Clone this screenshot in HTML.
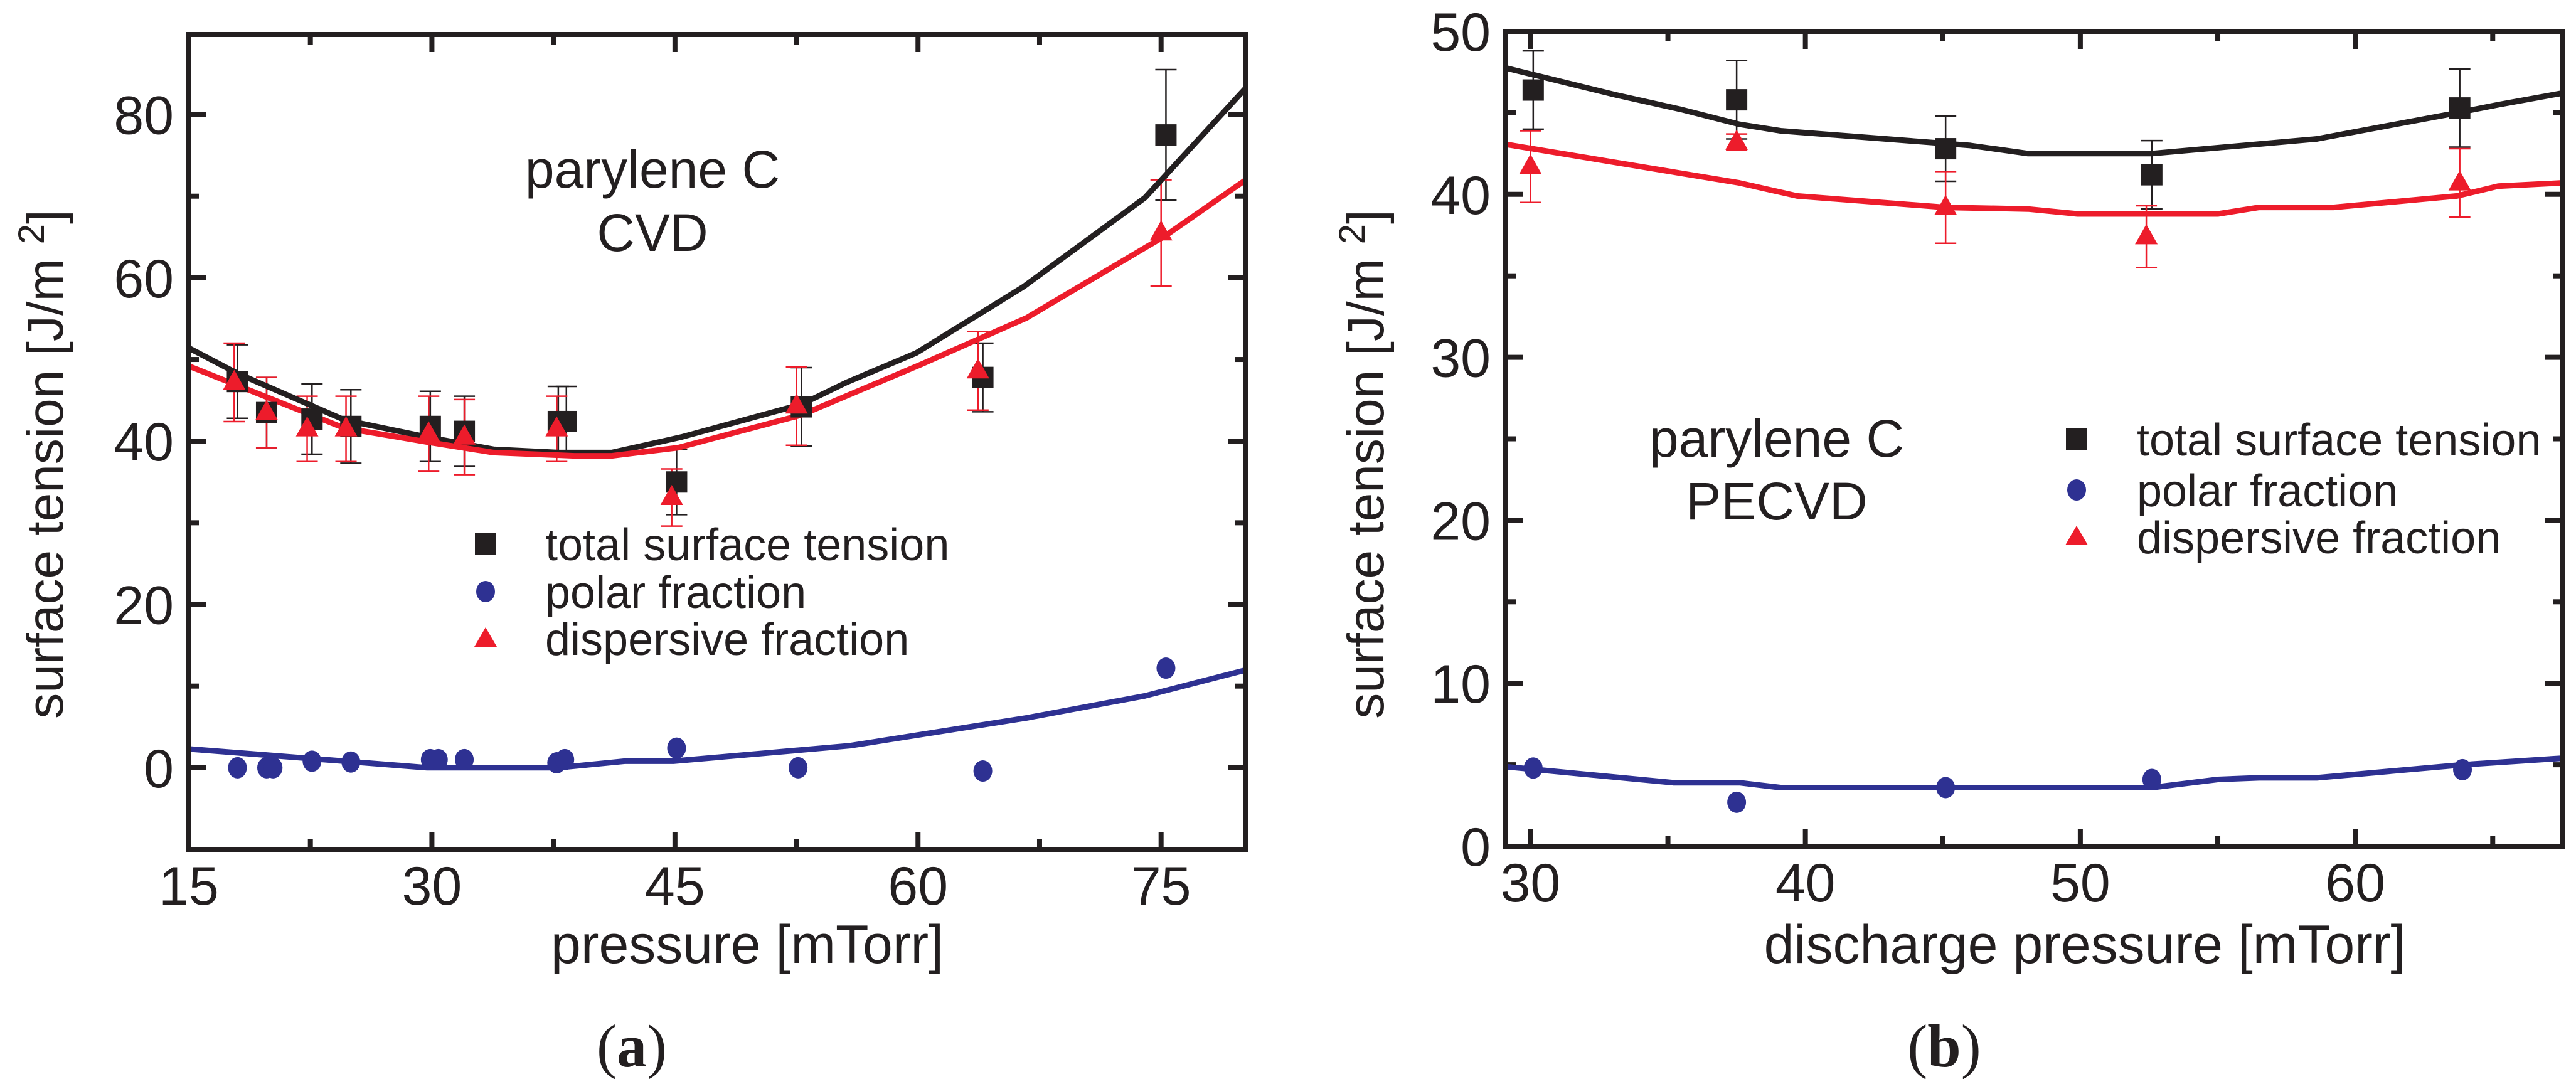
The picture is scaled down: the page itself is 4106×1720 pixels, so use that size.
<!DOCTYPE html>
<html><head><meta charset="utf-8"><style>
html,body{margin:0;padding:0;background:#fff;}
svg{display:block;font-family:"Liberation Sans",sans-serif;}
</style></head><body>
<svg id="fig" width="4106" height="1720" viewBox="0 0 4106 1720" xmlns="http://www.w3.org/2000/svg">
<rect x="0" y="0" width="4106" height="1720" fill="#fff"/>
<g id="pa"></g>
<g id="pb"></g>
<text x="1040" y="299" font-size="84" text-anchor="middle" fill="#231f20">parylene C</text>
<text x="1040" y="400" font-size="84" text-anchor="middle" fill="#231f20">CVD</text>
<text x="1191" y="1535" font-size="86" text-anchor="middle" fill="#231f20">pressure [mTorr]</text>
<text transform="translate(100,740) rotate(-90)" font-size="82" text-anchor="middle" fill="#231f20">surface tension [J/m <tspan dy="-30" font-size="58">2</tspan><tspan dy="30">]</tspan></text>
<text x="1007" y="1700" font-size="96" text-anchor="middle" font-family="Liberation Serif, serif" fill="#231f20">(<tspan font-weight="bold">a</tspan>)</text>
<text x="2832" y="728" font-size="84" text-anchor="middle" fill="#231f20">parylene C</text>
<text x="2832" y="828" font-size="84" text-anchor="middle" fill="#231f20">PECVD</text>
<text x="3323" y="1535" font-size="86" text-anchor="middle" fill="#231f20">discharge pressure [mTorr]</text>
<text transform="translate(2205,740) rotate(-90)" font-size="82" text-anchor="middle" fill="#231f20">surface tension [J/m <tspan dy="-30" font-size="58">2</tspan><tspan dy="30">]</tspan></text>
<text x="3099" y="1700" font-size="96" text-anchor="middle" font-family="Liberation Serif, serif" fill="#231f20">(<tspan font-weight="bold">b</tspan>)</text>
</svg>
<script>
const aTotalX = [18.0, 19.8, 22.6, 25.0, 29.9, 32.0, 37.8, 38.3, 45.1, 52.8, 64.0, 75.3];
const aTotalY = [47.3, 43.5, 42.7, 41.8, 41.8, 41.2, 42.4, 42.4, 35.0, 44.2, 47.8, 77.5];
const aTotalErr = [4.5, 4.3, 4.3, 4.5, 4.3, 4.3, 4.3, 4.3, 4.0, 4.8, 4.2, 8.0];
const aDispX = [17.8, 19.8, 22.3, 24.7, 29.8, 32.0, 37.7, 44.8, 52.5, 63.7, 75.0];
const aDispY = [47.2, 43.5, 41.5, 41.5, 40.9, 40.5, 41.5, 33.1, 44.3, 48.6, 65.5];
const aDispErr = [4.8, 4.3, 4.0, 4.0, 4.6, 4.6, 4.0, 3.5, 4.8, 4.8, 6.5];
const aPolarX = [18.0, 19.8, 20.2, 22.6, 25.0, 29.9, 30.4, 32.0, 37.7, 38.2, 45.1, 52.6, 64.0, 75.3];
const aPolarY = [0.0, 0.0, 0.0, 0.8, 0.7, 1.0, 1.0, 1.0, 0.6, 1.0, 2.4, 0.0, -0.4, 12.2];
const aFitTotX = [15, 18, 24.6, 29.7, 33.8, 37.8, 41.1, 45.4, 52.8, 55.6, 59.9, 66.5, 74, 80.3];
const aFitTotY = [51.4, 48.3, 42.6, 40.5, 39.0, 38.6, 38.6, 40.5, 44.5, 47.2, 50.8, 58.9, 69.8, 83.4];
const aFitDispX = [15, 24.6, 29.7, 33.8, 38.8, 41.1, 45.2, 52.8, 60.2, 66.7, 75.3, 80.3];
const aFitDispY = [49.2, 41.6, 39.9, 38.6, 38.2, 38.2, 39.2, 43.2, 49.4, 55.1, 65.2, 72.1];
const aFitPolX = [15, 24.6, 29.7, 37.8, 41.9, 44.9, 55.8, 66.7, 74, 80.3];
const aFitPolY = [2.3, 0.8, 0, 0, 0.8, 0.8, 2.7, 6.1, 8.8, 12.0];
const aXTicks = [15, 30, 45, 60, 75];
const aYTicks = [0, 20, 40, 60, 80];
const bTotalX = [30.1, 37.5, 45.1, 52.6, 63.8];
const bTotalY = [46.4, 45.8, 42.8, 41.2, 45.3];
const bTotalErr = [2.4, 2.4, 2.0, 2.1, 2.4];
const bDispX = [30.0, 37.5, 45.1, 52.4, 63.8];
const bDispY = [41.7, 43.2, 39.2, 37.4, 40.7];
const bDispErr = [2.2, 0.5, 2.2, 1.9, 2.1];
const bPolarX = [30.1, 37.5, 45.1, 52.6, 63.9];
const bPolarY = [4.8, 2.7, 3.6, 4.1, 4.7];
const bFitTotX = [29.0, 33.1, 35.5, 37.6, 39.1, 46.0, 48.1, 52.6, 58.6, 63.7, 65.2, 67.5];
const bFitTotY = [47.8, 46.1, 45.2, 44.3, 43.9, 43.0, 42.5, 42.5, 43.4, 45.0, 45.5, 46.2];
const bFitDispX = [29.0, 37.6, 39.7, 45.1, 48.1, 49.9, 55.0, 56.5, 59.2, 63.7, 65.2, 67.5];
const bFitDispY = [43.1, 40.7, 39.9, 39.2, 39.1, 38.8, 38.8, 39.2, 39.2, 39.9, 40.5, 40.7];
const bFitPolX = [29.0, 35.2, 37.6, 39.1, 52.6, 55.0, 56.5, 58.6, 63.9, 67.5];
const bFitPolY = [4.9, 3.9, 3.9, 3.6, 3.6, 4.1, 4.2, 4.2, 5.0, 5.4];
const bXTicks = [30, 40, 50, 60];
const bYTicks = [0, 10, 20, 30, 40, 50];

const NS = 'http://www.w3.org/2000/svg';
const INK = '#231f20', RED = '#ed1c2b', BLUE = '#2e3192';
function mk(parent, tag, attrs) {
  const e = document.createElementNS(NS, tag);
  for (const k in attrs) e.setAttribute(k, attrs[k]);
  parent.appendChild(e);
  return e;
}
function makeScale(d0, d1, r0, r1) { return v => r0 + (v - d0) * (r1 - r0) / (d1 - d0); }

function drawPanel(g, cfg) {
  const sx = makeScale(cfg.xmin, cfg.xmax, cfg.L, cfg.R);
  const sy = makeScale(cfg.ymin, cfg.ymax, cfg.B, cfg.T);
  for (let v = cfg.xmin0; v <= cfg.xmax + 1e-9; v += cfg.xminor) {
    const x = sx(v);
    if (x < cfg.L + 2 || x > cfg.R - 2) continue;
    const major = cfg.xTicks.some(t => Math.abs(t - v) < 1e-6);
    const len = major ? 28 : 16;
    const t1 = mk(g, 'line', {x1: x, x2: x, y1: cfg.B, y2: cfg.B - len, stroke: INK, 'stroke-width': 8});
    
    
    const t2 = mk(g, 'line', {x1: x, x2: x, y1: cfg.T, y2: cfg.T + len, stroke: INK, 'stroke-width': 8});
    
    
  }
  for (let v = cfg.ymin0; v <= cfg.ymax + 1e-9; v += cfg.yminor) {
    const y = sy(v);
    if (y < cfg.T + 2 || y > cfg.B - 2) continue;
    const major = cfg.yTicks.some(t => Math.abs(t - v) < 1e-6);
    const len = major ? 28 : 16;
    const t1 = mk(g, 'line', {x1: cfg.L, x2: cfg.L + len, y1: y, y2: y, stroke: INK, 'stroke-width': 8});
    
    
    const t2 = mk(g, 'line', {x1: cfg.R, x2: cfg.R - len, y1: y, y2: y, stroke: INK, 'stroke-width': 8});
    
    
  }
  cfg.xTicks.forEach(v => {
    const t = mk(g, 'text', {x: sx(v), y: cfg.B + 88, 'font-size': 86, 'text-anchor': 'middle', fill: INK});
    
    
    t.textContent = v;
  });
  cfg.yTicks.forEach(v => {
    const t = mk(g, 'text', {x: cfg.L - 24, y: sy(v) + 31, 'font-size': 86, 'text-anchor': 'end', fill: INK});
    
    
    t.textContent = v;
  });
  const cid = cfg.id + '-clip';
  const cp = mk(g, 'clipPath', {id: cid});
  mk(cp, 'rect', {x: cfg.L, y: cfg.T, width: cfg.R - cfg.L, height: cfg.B - cfg.T});
  const plot = mk(g, 'g', {'clip-path': 'url(#' + cid + ')'});
  
  
  function line(xs, ys, col, name) {
    const pts = xs.map((x, i) => sx(x).toFixed(1) + ',' + sy(ys[i]).toFixed(1)).join(' ');
    const p = mk(plot, 'polyline', {points: pts, fill: 'none', stroke: col, 'stroke-width': 9, 'stroke-linejoin': 'round'});
    
    
  }
  function errs(xs, ys, es, col, name) {
    xs.forEach((x, i) => {
      const X = sx(x), y1 = sy(ys[i] + es[i]), y2 = sy(ys[i] - es[i]);
      const e = mk(plot, 'path', {d: `M${X},${y1}V${y2}M${X-17},${y1}H${X+17}M${X-17},${y2}H${X+17}`, stroke: col, 'stroke-width': 2.5, fill: 'none'});
      
      
    });
  }
  errs(cfg.totX, cfg.totY, cfg.totE, INK, 'error-bar-total');
  errs(cfg.dispX, cfg.dispY, cfg.dispE, RED, 'error-bar-dispersive');
  line(cfg.fTX, cfg.fTY, INK, 'fit-line-total');
  line(cfg.fDX, cfg.fDY, RED, 'fit-line-dispersive');
  line(cfg.fPX, cfg.fPY, BLUE, 'fit-line-polar');
  cfg.totX.forEach((x, i) => {
    const r = mk(plot, 'rect', {x: sx(x) - 17, y: sy(cfg.totY[i]) - 17, width: 34, height: 34, fill: INK});
    
    
  });
  cfg.dispX.forEach((x, i) => {
    const X = sx(x), Y = sy(cfg.dispY[i]);
    const p = mk(plot, 'polygon', {points: `${X-18},${Y+12} ${X+18},${Y+12} ${X},${Y-20}`, fill: RED});
    
    
  });
  cfg.polX.forEach((x, i) => {
    const c = mk(plot, 'ellipse', {cx: sx(x), cy: sy(cfg.polY[i]), rx: 15, ry: 17, fill: BLUE});
    
    
  });
  const f = mk(g, 'rect', {x: cfg.L, y: cfg.T, width: cfg.R - cfg.L, height: cfg.B - cfg.T, fill: 'none', stroke: INK, 'stroke-width': 8});
  
  
  const lg = mk(g, 'g', {});
  
  
  const labels = ['total surface tension', 'polar fraction', 'dispersive fraction'];
  labels.forEach((lab, i) => {
    const y = cfg.legY[i], X = cfg.legMX;
    let m;
    if (i === 0) m = mk(lg, 'rect', {x: X - 17, y: y - 17, width: 34, height: 34, fill: INK});
    else if (i === 1) m = mk(lg, 'ellipse', {cx: X, cy: y, rx: 15, ry: 17, fill: BLUE});
    else m = mk(lg, 'polygon', {points: `${X-18},${y+13} ${X+18},${y+13} ${X},${y-18}`, fill: RED});
    
    
    const t = mk(lg, 'text', {x: cfg.legTX, y: y + 26, 'font-size': 72, fill: INK});
    
    
    t.textContent = lab;
  });
}

drawPanel(document.getElementById('pa'), {
  id: 'a', L: 301, R: 1985, T: 55, B: 1354,
  xmin: 15, xmax: 80.2, ymin: -10, ymax: 89.8,
  xmin0: 15, xminor: 7.5, ymin0: -10, yminor: 10,
  xTicks: aXTicks, yTicks: aYTicks,
  totX: aTotalX, totY: aTotalY, totE: aTotalErr,
  dispX: aDispX, dispY: aDispY, dispE: aDispErr,
  polX: aPolarX, polY: aPolarY,
  fTX: aFitTotX, fTY: aFitTotY, fDX: aFitDispX, fDY: aFitDispY, fPX: aFitPolX, fPY: aFitPolY,
  legMX: 774, legTX: 869, legY: [867, 943, 1018]
});
drawPanel(document.getElementById('pb'), {
  id: 'b', L: 2400, R: 4085, T: 50, B: 1349,
  xmin: 29.1, xmax: 67.55, ymin: 0, ymax: 50,
  xmin0: 30, xminor: 5, ymin0: 0, yminor: 5,
  xTicks: bXTicks, yTicks: bYTicks,
  totX: bTotalX, totY: bTotalY, totE: bTotalErr,
  dispX: bDispX, dispY: bDispY, dispE: bDispErr,
  polX: bPolarX, polY: bPolarY,
  fTX: bFitTotX, fTY: bFitTotY, fDX: bFitDispX, fDY: bFitDispY, fPX: bFitPolX, fPY: bFitPolY,
  legMX: 3310, legTX: 3406, legY: [700, 781, 856]
});
</script>
</body></html>
